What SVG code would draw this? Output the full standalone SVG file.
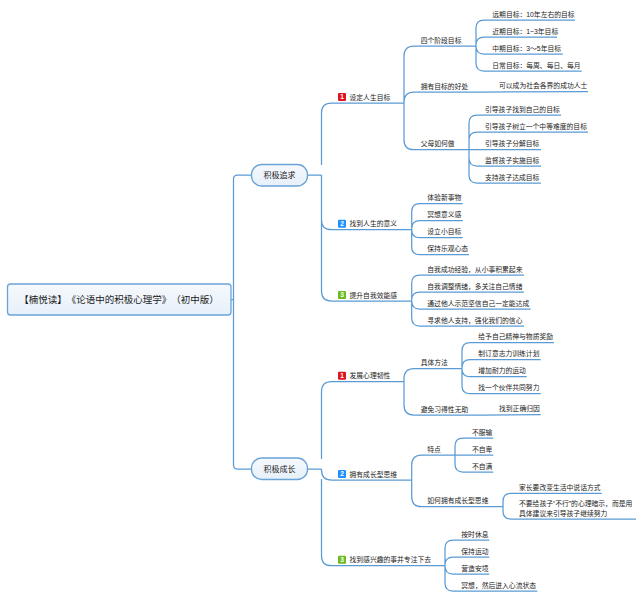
<svg xmlns="http://www.w3.org/2000/svg" width="644" height="599" viewBox="0 0 644 599">
<style>
text{font-family:"Liberation Sans","Noto Sans CJK SC",sans-serif;font-size:6.8px;fill:#222;text-spacing-trim:space-all}
.c path{fill:none;stroke:#5b9bd5;stroke-width:1.25}
.root,.branch{fill:url(#g);stroke:#69a3d8;stroke-width:1.3}
.t{text-anchor:middle;fill:#1a1a1a}
.b{font-size:6.6px;font-weight:bold;fill:#fff;text-anchor:middle}
</style>
<defs><linearGradient id="g" x1="0" y1="0" x2="0" y2="1"><stop offset="0" stop-color="#f6f9fd"/><stop offset="1" stop-color="#e6f0f9"/></linearGradient></defs>
<rect width="644" height="599" fill="#fff"/>
<g id="connectors" class="c">
<path d="M231 299.5H233.5M251.5 175H237.5Q233.5 175 233.5 179V465Q233.5 469 237.5 469H251.5"/>
<path d="M307.5 175H321.5M404 103H331.5Q321.5 103 321.5 113V165M321.5 175V220Q321.5 229.7 331.5 229.7H411.7M321.5 185V291Q321.5 301 331.5 301H411.7"/>
<path d="M307.5 469H321.5M404 381.7H331.5Q321.5 381.7 321.5 391.7V459M321.5 469V470Q321.5 480 331.5 480H411.7M321.5 479V555.7Q321.5 565.7 331.5 565.7H445"/>
<path d="M404 103V56Q404 46 414 46H476M404 103V102Q404 92 414 92H483L588 91.7M404 103V139.7Q404 149.7 414 149.7H469"/>
<path d="M476 46V28Q476 20 484 20H575M476 46V45Q476 37 484 37H557M476 46Q476 54 484 54H562.7M476 46V63Q476 71 484 71H581.7"/>
<path d="M469 149.7V123Q469 115 477 115H561M469 149.7V140Q469 132 477 132H588M469 149.7H541M469 149.7V158Q469 166 477 166H541M469 149.7V175Q469 183 477 183H541"/>
<path d="M411.7 229.7V211.7Q411.7 203.7 419.7 203.7H462.7M411.7 229.7V228.7Q411.7 220.7 419.7 220.7H462.7M411.7 229.7Q411.7 237.7 419.7 237.7H462.7M411.7 229.7V246.7Q411.7 254.7 419.7 254.7H469"/>
<path d="M411.7 301V283Q411.7 275 419.7 275H524M411.7 301V300Q411.7 292 419.7 292H524M411.7 301Q411.7 309 419.7 309H530.7M411.7 301V318Q411.7 326 419.7 326H524"/>
<path d="M404 381.7V378.7Q404 368.7 414 368.7H462M404 381.7V405Q404 415 414 415H483L540.7 414.7"/>
<path d="M462 368.7V350.7Q462 342.7 470 342.7H554M462 368.7V367.7Q462 359.7 470 359.7H540.7M462 368.7Q462 376.7 470 376.7H526.7M462 368.7V385.7Q462 393.7 470 393.7H540.7"/>
<path d="M411.7 480V465Q411.7 455 421.7 455H493.3M411.7 480V496.7Q411.7 506.7 421.7 506.7H503"/>
<path d="M455 455V446Q455 438 463 438H493.3M455 455V464Q455 472 463 472H493.3"/>
<path d="M503 506.7V501.3Q503 493.3 511 493.3H601.7M503 506.7V511Q503 519 511 519H636"/>
<path d="M445 565.7V548Q445 540 453 540H489.3M445 565.7V565Q445 557 453 557H489.3M445 565.7Q445 574 453 574H489.3M445 565.7V583Q445 591 453 591H537.3"/>
</g>
<g id="root"><rect class="root" x="7.5" y="284" width="223.5" height="31" rx="3"/><text class="t" x="119" y="303.2" style="font-size:9.5px;font-family:'Noto Sans CJK SC',sans-serif">【楠悦读】《论语中的积极心理学》（初中版）</text></g>
<g id="b1"><rect class="branch" x="251.5" y="164.5" width="56" height="21.5" rx="10"/><text class="t" x="279.5" y="178" style="font-size:8px">积极追求</text></g>
<g id="b2"><rect class="branch" x="251.5" y="458" width="56" height="21.5" rx="10"/><text class="t" x="279.5" y="472" style="font-size:8px">积极成长</text></g>
<g id="n1"><rect x="338" y="93" width="8" height="8" rx="1" fill="#e0141c"/><text class="b" x="342" y="99.4">1</text><text x="349.5" y="99.6">设定人生目标</text></g>
<g id="n2"><rect x="338" y="219.7" width="8" height="8" rx="1" fill="#1e90ff"/><text class="b" x="342" y="226.1">2</text><text x="349.5" y="226.3">找到人生的意义</text></g>
<g id="n3"><rect x="338" y="291" width="8" height="8" rx="1" fill="#6cbb1e"/><text class="b" x="342" y="297.4">3</text><text x="349.5" y="297.6">提升自我效能感</text></g>
<g id="n4"><rect x="338" y="371.7" width="8" height="8" rx="1" fill="#e0141c"/><text class="b" x="342" y="378.1">1</text><text x="349.5" y="378.3">发展心理韧性</text></g>
<g id="n5"><rect x="338" y="470" width="8" height="8" rx="1" fill="#1e90ff"/><text class="b" x="342" y="476.4">2</text><text x="349.5" y="476.6">拥有成长型思维</text></g>
<g id="n6"><rect x="338" y="555.7" width="8" height="8" rx="1" fill="#6cbb1e"/><text class="b" x="342" y="562.1">3</text><text x="349.5" y="562.3">找到感兴趣的事并专注下去</text></g>
<g id="a1"><text x="420.7" y="42.6">四个阶段目标</text></g>
<g id="a2"><text x="420.7" y="88.6">拥有目标的好处</text></g>
<g id="a3"><text x="420.7" y="146.3">父母如何做</text></g>
<g id="a4"><text x="420.7" y="365.3">具体方法</text></g>
<g id="a5"><text x="420.7" y="411.6">避免习得性无助</text></g>
<g id="a6"><text x="427.3" y="451.6">特点</text></g>
<g id="a7"><text x="427.3" y="503.3">如何拥有成长型思维</text></g>
<g id="l1"><text x="492.3" y="16.6">远期目标：10年左右的目标</text></g>
<g id="l2"><text x="492.3" y="33.6">近期目标：1~3年目标</text></g>
<g id="l3"><text x="492.3" y="50.6">中期目标：3～5年目标</text></g>
<g id="l4"><text x="492.3" y="67.6">日常目标：每周、每日、每月</text></g>
<g id="l5"><text x="499" y="88.3">可以成为社会各界的成功人士</text></g>
<g id="l6"><text x="485" y="111.6">引导孩子找到自己的目标</text></g>
<g id="l7"><text x="485" y="128.6">引导孩子树立一个中等难度的目标</text></g>
<g id="l8"><text x="485" y="145.6">引导孩子分解目标</text></g>
<g id="l9"><text x="485" y="162.6">监督孩子实施目标</text></g>
<g id="l10"><text x="485" y="179.6">支持孩子达成目标</text></g>
<g id="l11"><text x="427.3" y="200.3">体验新事物</text></g>
<g id="l12"><text x="427.3" y="217.3">冥想意义感</text></g>
<g id="l13"><text x="427.3" y="234.3">设立小目标</text></g>
<g id="l14"><text x="427.3" y="251.3">保持乐观心态</text></g>
<g id="l15"><text x="427.3" y="271.6">自我成功经验，从小事积累起来</text></g>
<g id="l16"><text x="427.3" y="288.6">自我调整情绪，多关注自己情绪</text></g>
<g id="l17"><text x="427.3" y="305.6">通过他人示范坚信自己一定能达成</text></g>
<g id="l18"><text x="427.3" y="322.6">寻求他人支持，强化我们的信心</text></g>
<g id="l19"><text x="478.3" y="339.3">给予自己精神与物质奖励</text></g>
<g id="l20"><text x="478.3" y="356.3">制订意志力训练计划</text></g>
<g id="l21"><text x="478.3" y="373.3">增加耐力的运动</text></g>
<g id="l22"><text x="478.3" y="390.3">找一个伙伴共同努力</text></g>
<g id="l23"><text x="499" y="411.3">找到正确归因</text></g>
<g id="l24"><text x="472" y="434.6">不服输</text></g>
<g id="l25"><text x="472" y="451.6">不自卑</text></g>
<g id="l26"><text x="472" y="468.6">不自满</text></g>
<g id="l27"><text x="519" y="489.9">家长要改变生活中说话方式</text></g>
<g id="l28"><text x="519" y="505.6">不要给孩子“不行”的心理暗示，而是用</text><text x="519" y="515.6">具体建议来引导孩子继续努力</text></g>
<g id="l29"><text x="461.3" y="536.6">按时休息</text></g>
<g id="l30"><text x="461.3" y="553.6">保持运动</text></g>
<g id="l31"><text x="461.3" y="570.6">营造安境</text></g>
<g id="l32"><text x="461.3" y="587.6">冥想，然后进入心流状态</text></g>
</svg>
